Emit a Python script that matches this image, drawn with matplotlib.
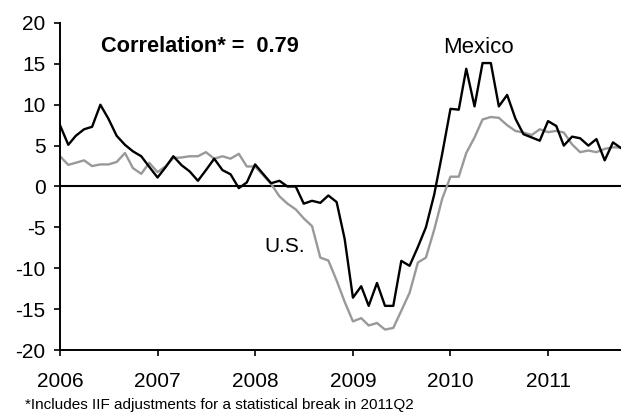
import pandas as pd
import matplotlib
matplotlib.use('Agg')
from matplotlib import pyplot as plt
import matplotlib.dates as mdates

# 字体设置
plt.rcParams['font.family'] = ['Liberation Sans', 'DejaVu Sans']
plt.rcParams['axes.unicode_minus'] = False

# 月度数据 2006-01 ~ 2011-10
months = pd.date_range('2006-01-01', periods=70, freq='MS')

mexico = [7.5, 5.1, 6.2, 7.0, 7.3, 10.0, 8.3, 6.2, 5.1, 4.3, 3.7, 2.4,
          1.1, 2.4, 3.7, 2.6, 1.85, 0.7, 2.0, 3.4, 2.0, 1.5, -0.2, 0.5,
          2.7, 1.5, 0.4, 0.7, 0.0, 0.0, -2.1, -1.75, -2.0, -1.1, -1.9, -6.4,
          -13.6, -12.2, -14.6, -11.8, -14.6, -14.6, -9.1, -9.7, -7.4, -5.0, -1.0, 4.0,
          9.5, 9.4, 14.4, 9.8, 15.1, 15.1, 9.8, 11.2, 8.3, 6.4, 6.0, 5.6,
          8.0, 7.4, 5.0, 6.1, 5.9, 5.0, 5.8, 3.2, 5.4, 4.7]

us = [3.7, 2.65, 2.9, 3.2, 2.5, 2.7, 2.7, 3.0, 4.1, 2.25, 1.55, 2.9,
      1.75, 2.5, 3.5, 3.55, 3.7, 3.7, 4.2, 3.4, 3.7, 3.4, 4.0, 2.45,
      2.45, 1.35, 0.3, -1.2, -2.1, -2.8, -3.9, -4.85, -8.7, -9.05, -11.5, -14.1,
      -16.5, -16.1, -17.0, -16.7, -17.5, -17.3, -15.2, -13.0, -9.3, -8.7, -5.3, -1.5,
      1.2, 1.2, 4.1, 6.0, 8.2, 8.5, 8.4, 7.5, 6.8, 6.6, 6.3, 7.0,
      6.65, 6.8, 6.6, 5.15, 4.2, 4.4, 4.2, 4.6, 4.8, 4.75]

y_ticks = [-20, -15, -10, -5, 0, 5, 10, 15, 20]

fig = plt.figure(figsize=(6.21, 4.13), dpi=100)
ax = fig.add_axes([60 / 621, 63 / 413, 561 / 621, 327 / 413])

# 零线
ax.axhline(0, color='black', linewidth=1.5, zorder=1)

# 两条序列
ax.plot(months, us, color='#999999', linewidth=1.7, zorder=2)
ax.plot(months, mexico, color='black', linewidth=1.7, zorder=3)

ax.set_xlim(months[0], months[-1])
ax.set_ylim(-20, 20)
ax.set_yticks(y_ticks)
ax.xaxis.set_major_locator(mdates.YearLocator())
ax.xaxis.set_major_formatter(mdates.DateFormatter('%Y'))

for side in ['top', 'right']:
    ax.spines[side].set_visible(False)
for side in ['left', 'bottom']:
    ax.spines[side].set_linewidth(1.4)

ax.tick_params(axis='both', direction='out', length=4.5, width=1.2,
               labelsize=15, colors='black')
ax.tick_params(axis='y', pad=6)
ax.tick_params(axis='x', pad=11)

# 标注
ax.text(0.0725, 0.927, 'Correlation* =  0.79', transform=ax.transAxes,
        fontsize=15.7, fontweight='bold', va='center', ha='left')
ax.text(0.746, 0.926, 'Mexico', transform=ax.transAxes,
        fontsize=16, va='center', ha='center')
ax.text(0.401, 0.316, 'U.S.', transform=ax.transAxes,
        fontsize=15, va='center', ha='center')

fig.text(25 / 621, 4 / 413, '*Includes IIF adjustments for a statistical break in 2011Q2',
         fontsize=11, ha='left', va='baseline')

plt.savefig('out.png', dpi=100)
